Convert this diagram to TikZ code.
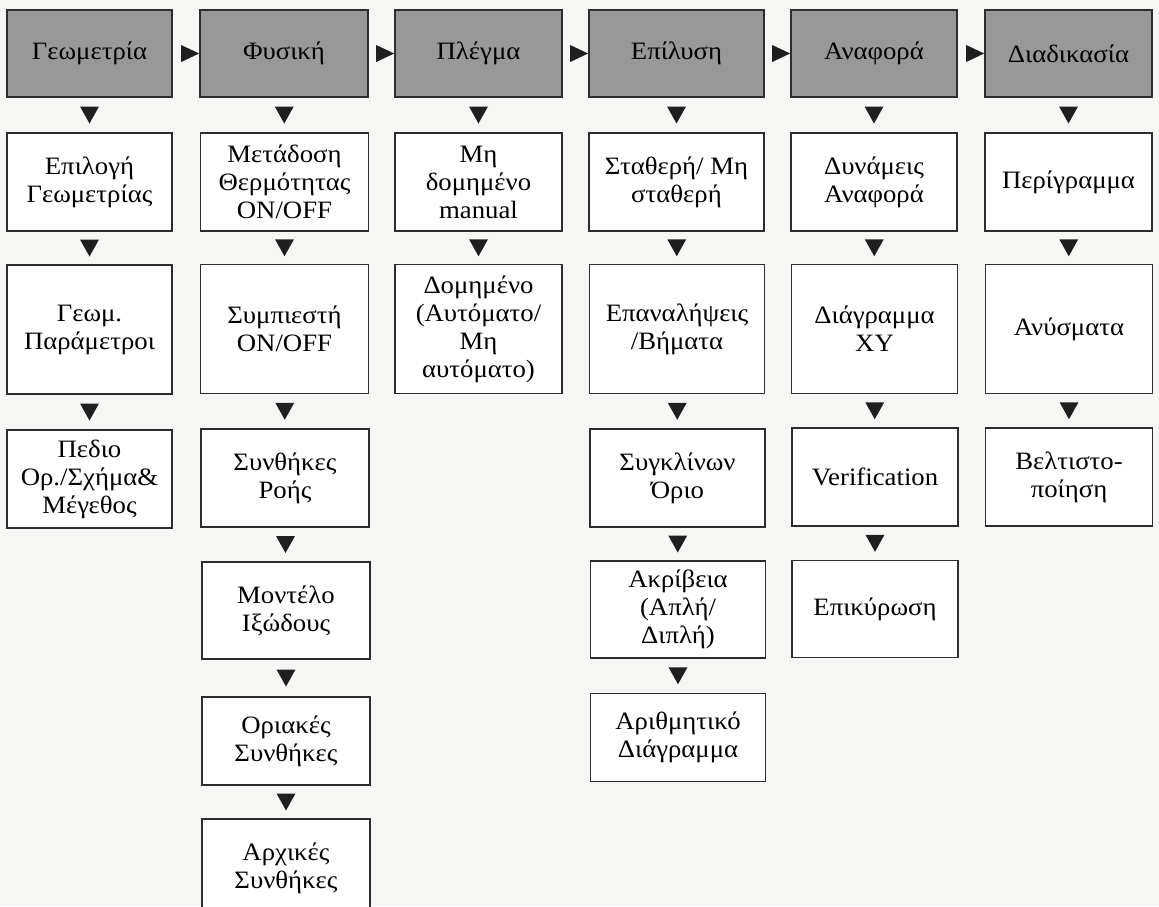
\documentclass[tikz,border=0pt]{standalone}
\usepackage{fontspec}
\setmainfont{Liberation Serif}[FakeStretch=1.07]
\usetikzlibrary{calc}
\definecolor{bg}{RGB}{246,246,245}
\definecolor{hdfill}{RGB}{152,152,152}
\definecolor{edge}{RGB}{45,45,45}
\tikzset{
  bx/.style={draw=edge, line width=1.7pt, fill=white, align=center, inner sep=0pt,
             font=\fontsize{25}{28}\selectfont, text=black},
  hd/.style={bx, fill=hdfill},
  tri/.style={fill=black!88},
  cA/.style={minimum width=165pt},
  cB/.style={minimum width=168pt},
  cC/.style={minimum width=167pt},
  cD/.style={minimum width=175pt},
  cE/.style={minimum width=166pt},
  cF/.style={minimum width=167pt},
  rZ/.style={minimum height=87pt},
  rA/.style={minimum height=98pt},
  rB/.style={minimum height=129pt},
  rC/.style={minimum height=98pt},
  rD/.style={minimum height=97pt},
  rE/.style={minimum height=88pt},
  rF/.style={minimum height=98pt},
}
\newcommand\dtri[2]{%
  \path (#1.south) -- (#2.north) coordinate[pos=0.5] (mtri);
  \fill[tri] ($(mtri)+(-9.5,-8.5)$) -- ($(mtri)+(9.5,-8.5)$) -- ($(mtri)+(0,8.5)$) -- cycle;}
\newcommand\rtri[2]{%
  \path (#1.east) -- (#2.west) coordinate[pos=1] (mtri);
  \fill[tri] (mtri) -- ($(mtri)+(-18,-8.5)$) -- ($(mtri)+(-18,8.5)$) -- cycle;}
\begin{document}
\begin{tikzpicture}[x=1pt,y=-1pt]
\clip (0,0) rectangle (1159,906);
\useasboundingbox (0,0) rectangle (1159,906);
\fill[bg] (0,0) rectangle (1159,906);

% headers
\node[hd,cA,rZ] (h1) at (89.5,53.5) {Γεωμετρία};
\node[hd,cB,rZ] (h2) at (284,53.5) {Φυσική};
\node[hd,cC,rZ] (h3) at (478.5,53.5) {Πλέγμα};
\node[hd,cD,rZ] (h4) at (676.5,53.5) {Επίλυση};
\node[hd,cE,rZ] (h5) at (874,53.5) {Αναφορά};
\node[hd,cF,rZ] (h6) at (1068.5,53.5) {Διαδικασία};

% column 1
\node[bx,cA,rA] (a1) at (89.5,182) {Επιλογή\\Γεωμετρίας};
\node[bx,cA,rB] (a2) at (89.5,329.5) {Γεωμ.\\Παράμετροι};
\node[bx,cA,rC] (a3) at (89.5,479) {Πεδιο\\Ορ./Σχήμα\&\\Μέγεθος};

% column 2
\node[bx,cB,rA] (b1) at (284.5,182) {Μετάδοση\\Θερμότητας\\ON/OFF};
\node[bx,cB,rB] (b2) at (284.5,329) {Συμπιεστή\\ON/OFF};
\node[bx,cB,rC] (b3) at (285,478) {Συνθήκες\\Ροής};
\node[bx,cB,rD] (b4) at (286,610.5) {Μοντέλο\\Ιξώδους};
\node[bx,cB,rE] (b5) at (286,741) {Οριακές\\Συνθήκες};
\node[bx,cB,rF] (b6) at (286,868) {Αρχικές\\Συνθήκες};

% column 3
\node[bx,cC,rA] (c1) at (478.5,182) {Μη\\δομημένο\\manual};
\node[bx,cC,rB] (c2) at (478.5,329) {Δομημένο\\(Αυτόματο/\\Μη\\αυτόματο)};

% column 4
\node[bx,cD,rA] (d1) at (676.5,182) {Σταθερή/ Μη\\σταθερή};
\node[bx,cD,rB] (d2) at (677,329) {Επαναλήψεις\\/Βήματα};
\node[bx,cD,rC] (d3) at (677.5,478) {Συγκλίνων\\Όριο};
\node[bx,cD,rD] (d4) at (678,609.5) {Ακρίβεια\\(Απλή/\\Διπλή)};
\node[bx,cD,rE] (d5) at (678,737.5) {Αριθμητικό\\Διάγραμμα};

% column 5
\node[bx,cE,rA] (e1) at (874,182) {Δυνάμεις\\Αναφορά};
\node[bx,cE,rB] (e2) at (874.5,329) {Διάγραμμα\\XY};
\node[bx,cE,rC] (e3) at (875,477) {Verification};
\node[bx,cE,rD] (e4) at (875,609) {Επικύρωση};

% column 6
\node[bx,cF,rA] (f1) at (1068.5,182) {Περίγραμμα};
\node[bx,cF,rB] (f2) at (1069,329) {Ανύσματα};
\node[bx,cF,rC] (f3) at (1069,477) {Βελτιστο-\\ποίηση};

% horizontal connectors
\rtri{h1}{h2}
\rtri{h2}{h3}
\rtri{h3}{h4}
\rtri{h4}{h5}
\rtri{h5}{h6}

% vertical connectors
\dtri{h1}{a1} \dtri{a1}{a2} \dtri{a2}{a3}
\dtri{h2}{b1} \dtri{b1}{b2} \dtri{b2}{b3} \dtri{b3}{b4} \dtri{b4}{b5} \dtri{b5}{b6}
\dtri{h3}{c1} \dtri{c1}{c2}
\dtri{h4}{d1} \dtri{d1}{d2} \dtri{d2}{d3} \dtri{d3}{d4} \dtri{d4}{d5}
\dtri{h5}{e1} \dtri{e1}{e2} \dtri{e2}{e3} \dtri{e3}{e4}
\dtri{h6}{f1} \dtri{f1}{f2} \dtri{f2}{f3}
\end{tikzpicture}
\end{document}
